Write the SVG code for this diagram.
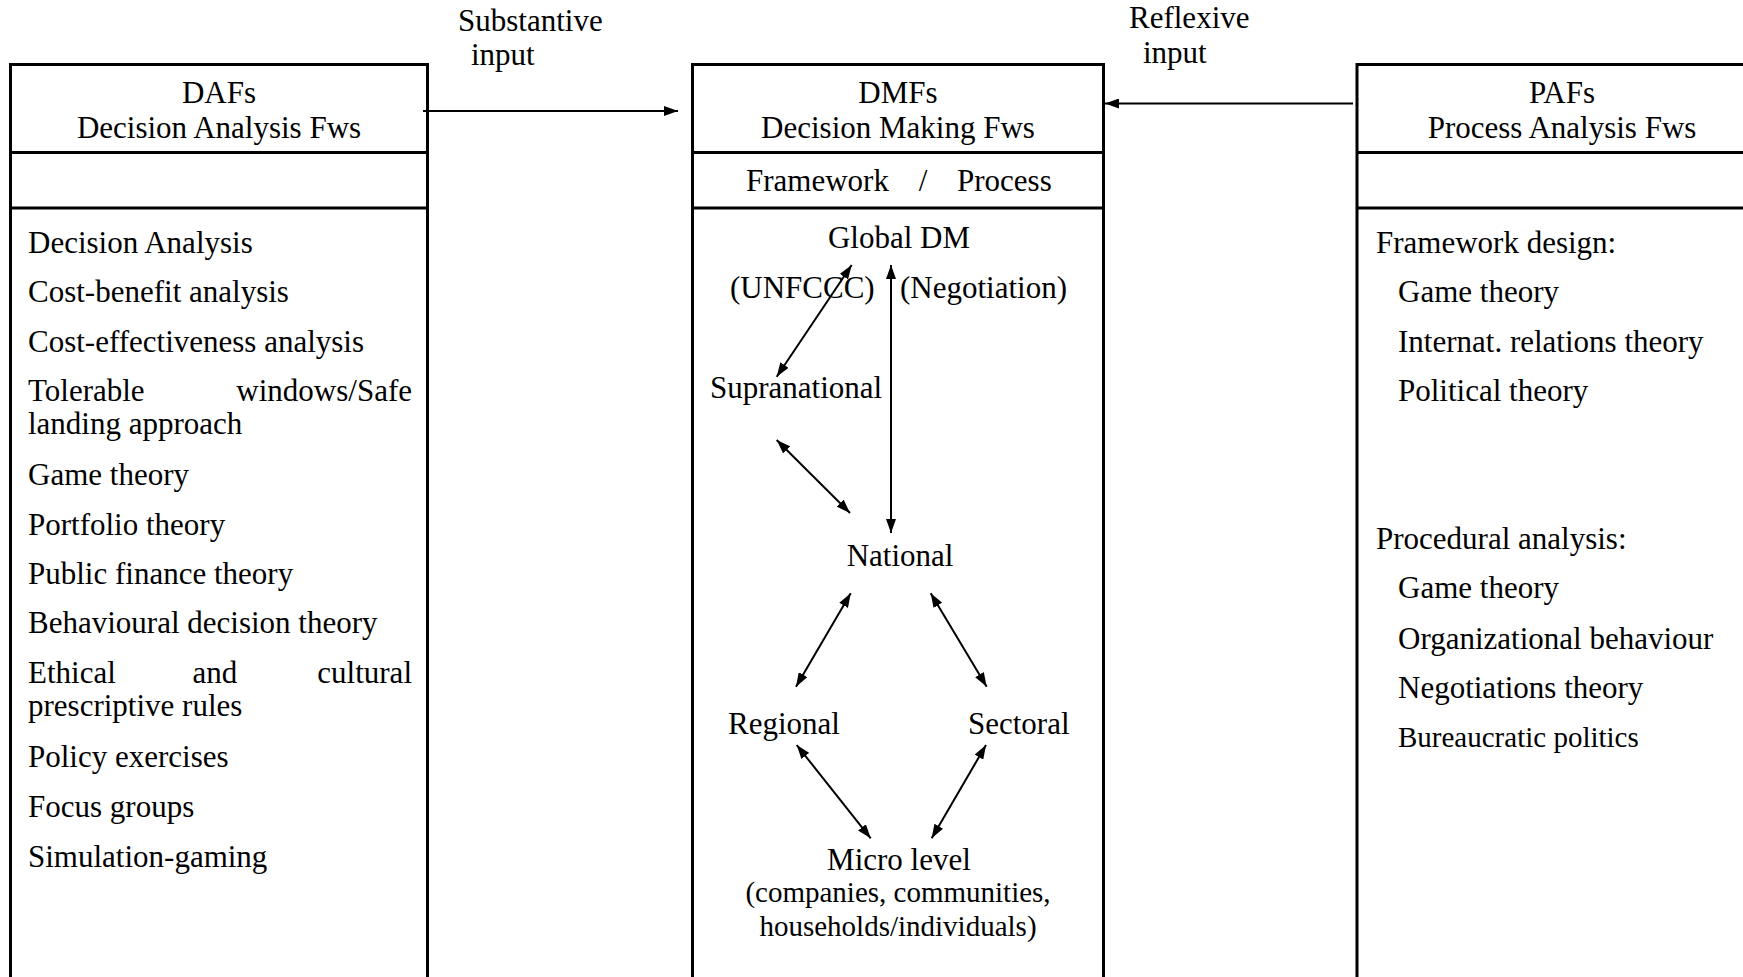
<svg xmlns="http://www.w3.org/2000/svg" width="1743" height="977" viewBox="0 0 1743 977">
<style>
.box{fill:none;stroke:#000;stroke-width:3}
.div{stroke:#000;stroke-width:3}
.t{font-family:"Liberation Serif","Times New Roman",serif;font-size:31px;fill:#000}
.s{font-size:29px}
.tb{font-family:"Liberation Serif","Times New Roman",serif;font-size:29px;fill:#000}
.c{text-anchor:middle}
.e{text-anchor:end}
.cn{stroke:#000;stroke-width:2;fill:none;marker-end:url(#ah)}
.bi{marker-start:url(#ah)}
</style>
<defs>
<marker id="ah" viewBox="0 0 14 10" refX="14" refY="5" markerWidth="14" markerHeight="10" markerUnits="userSpaceOnUse" orient="auto-start-reverse">
<path d="M0,0 L14,5 L0,10 z" fill="#000"/>
</marker>
</defs>
<rect width="1743" height="977" fill="#fff"/>

<g id="daf">
<rect class="box" x="10.5" y="64.5" width="417" height="960"/>
<line class="div" x1="10.5" y1="152.5" x2="427.5" y2="152.5"/>
<line class="div" x1="10.5" y1="208" x2="427.5" y2="208"/>
<text class="t c" x="219" y="103">DAFs</text>
<text class="t c" x="219" y="138">Decision Analysis Fws</text>
<text class="t" x="28" y="253">Decision Analysis</text>
<text class="t" x="28" y="302">Cost-benefit analysis</text>
<text class="t" x="28" y="352">Cost-effectiveness analysis</text>
<text class="t" x="28" y="401">Tolerable</text>
<text class="t e" x="412" y="401">windows/Safe</text>
<text class="t" x="28" y="434">landing approach</text>
<text class="t" x="28" y="485">Game theory</text>
<text class="t" x="28" y="535">Portfolio theory</text>
<text class="t" x="28" y="584">Public finance theory</text>
<text class="t" x="28" y="633">Behavioural decision theory</text>
<text class="t" x="28" y="683">Ethical</text>
<text class="t c" x="215" y="683">and</text>
<text class="t e" x="412" y="683">cultural</text>
<text class="t" x="28" y="716">prescriptive rules</text>
<text class="t" x="28" y="767">Policy exercises</text>
<text class="t" x="28" y="817">Focus groups</text>
<text class="t" x="28" y="867">Simulation-gaming</text>
</g>

<g id="dmf">
<rect class="box" x="692.5" y="64.5" width="411" height="960"/>
<line class="div" x1="692.5" y1="152.5" x2="1103.5" y2="152.5"/>
<line class="div" x1="692.5" y1="208" x2="1103.5" y2="208"/>
<text class="t c" x="898" y="103">DMFs</text>
<text class="t c" x="898" y="138">Decision Making Fws</text>
<text class="t" x="746" y="191">Framework</text>
<text class="t c" x="923" y="191">/</text>
<text class="t" x="957" y="191">Process</text>
</g>

<g id="global"><text class="t c" x="899" y="248">Global DM</text></g>
<g id="unfccc"><text class="t" x="730" y="298">(UNFCCC)</text></g>
<g id="negotiation"><text class="t" x="900" y="298">(Negotiation)</text></g>
<g id="supranational"><text class="t" x="710" y="398">Supranational</text></g>
<g id="national"><text class="t c" x="900" y="566">National</text></g>
<g id="regional"><text class="t" x="728" y="734">Regional</text></g>
<g id="sectoral"><text class="t" x="968" y="734">Sectoral</text></g>
<g id="micro">
<text class="t c" x="899" y="870">Micro level</text>
<text class="t s c" x="898" y="902">(companies, communities,</text>
<text class="t s c" x="898" y="936">households/individuals)</text>
</g>

<g id="paf">
<rect class="box" x="1357" y="64.5" width="420" height="960"/>
<line class="div" x1="1357" y1="152.5" x2="1777" y2="152.5"/>
<line class="div" x1="1357" y1="208" x2="1777" y2="208"/>
<text class="t c" x="1562" y="103">PAFs</text>
<text class="t c" x="1562" y="138">Process Analysis Fws</text>
<text class="t" x="1376" y="253">Framework design:</text>
<text class="t" x="1398" y="302">Game theory</text>
<text class="t" x="1398" y="352">Internat. relations theory</text>
<text class="t" x="1398" y="401">Political theory</text>
<text class="t" x="1376" y="549">Procedural analysis:</text>
<text class="t" x="1398" y="598">Game theory</text>
<text class="t" x="1398" y="649">Organizational behaviour</text>
<text class="t" x="1398" y="698">Negotiations theory</text>
<text class="tb" x="1398" y="747">Bureaucratic politics</text>
</g>

<g id="labels">
<text class="t" x="458" y="31">Substantive</text>
<text class="t" x="471" y="65">input</text>
<text class="t" x="1129" y="28">Reflexive</text>
<text class="t" x="1143" y="63">input</text>
</g>

<g id="connectors">
<line class="cn" x1="423" y1="111" x2="678" y2="111"/>
<line class="cn" x1="1353" y1="103.5" x2="1105" y2="103.5"/>
<line class="cn bi" x1="776.7" y1="376.7" x2="851.7" y2="265"/>
<line class="cn bi" x1="891" y1="265" x2="891" y2="533"/>
<line class="cn bi" x1="776.7" y1="440" x2="850" y2="513"/>
<line class="cn bi" x1="796" y1="686.7" x2="850.7" y2="593.3"/>
<line class="cn bi" x1="930.7" y1="593.3" x2="986.7" y2="686.7"/>
<line class="cn bi" x1="796.7" y1="745" x2="870.7" y2="838.3"/>
<line class="cn bi" x1="986" y1="745" x2="931.7" y2="838.3"/>
</g>
</svg>
